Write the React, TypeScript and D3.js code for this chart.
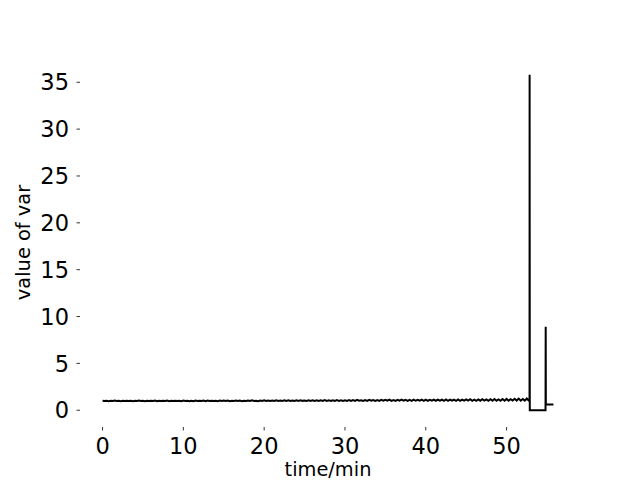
import React from "react";
import * as d3 from "d3";

// Sampled signal (every 0.25 min) before the event; one row = one minute
const SAMPLE_STEP = 0.25;
const baseValues: number[] = [
  1.01, 0.98, 1.02, 0.97,
  1.00, 0.98, 1.03, 0.99,
  1.01, 0.97, 1.02, 0.98,
  1.02, 0.99, 1.01, 0.97,
  1.00, 0.98, 1.03, 0.98,
  1.02, 0.97, 1.01, 0.99,
  1.01, 0.98, 1.03, 0.97,
  1.00, 0.99, 1.02, 0.98,
  1.03, 0.97, 1.01, 0.98,
  1.02, 0.98, 1.00, 0.97,
  1.03, 0.98, 1.02, 0.97,
  1.01, 0.97, 1.04, 0.99,
  1.02, 0.98, 1.03, 0.97,
  1.04, 0.99, 1.01, 0.98,
  1.02, 0.97, 1.03, 0.98,
  1.03, 0.98, 1.04, 0.97,
  1.01, 0.99, 1.03, 0.98,
  1.04, 0.97, 1.02, 0.98,
  1.03, 0.98, 1.05, 0.99,
  1.02, 0.97, 1.04, 0.98,
  1.05, 0.98, 1.03, 0.99,
  1.04, 0.98, 1.06, 0.99,
  1.03, 0.99, 1.05, 0.98,
  1.06, 0.99, 1.04, 0.98,
  1.05, 0.98, 1.07, 1.00,
  1.04, 0.99, 1.06, 0.98,
  1.07, 1.00, 1.05, 0.99,
  1.06, 0.99, 1.08, 1.00,
  1.05, 0.99, 1.07, 0.99,
  1.08, 1.00, 1.06, 0.99,
  1.07, 1.00, 1.09, 0.99,
  1.08, 1.00, 1.10, 1.01,
  1.06, 0.99, 1.09, 1.00,
  1.11, 1.01, 1.08, 1.00,
  1.09, 1.00, 1.11, 1.01,
  1.10, 1.01, 1.12, 1.00,
  1.08, 1.00, 1.11, 1.01,
  1.12, 1.01, 1.10, 1.00,
  1.11, 1.00, 1.13, 1.01,
  1.10, 1.01, 1.12, 1.00,
  1.13, 1.01, 1.11, 1.02,
  1.14, 1.01, 1.12, 1.02,
  1.12, 1.00, 1.15, 1.01,
  1.14, 1.02, 1.13, 1.01,
  1.16, 1.01, 1.14, 1.02,
  1.15, 1.02, 1.17, 1.01,
  1.13, 1.01, 1.16, 1.02,
  1.18, 1.02, 1.15, 1.01,
  1.17, 1.02, 1.19, 1.02,
  1.16, 1.01, 1.20, 1.02,
  1.21, 1.02, 1.18, 1.03,
  1.22, 1.03, 1.24, 1.02,
  1.20, 1.03, 1.25, 1.02,
];

// Event segment (time in min, value)
const eventTimes: number[] = [52.84, 52.85, 52.87, 54.82, 54.84, 54.86, 55.8];
const eventValues: number[] = [0.98, 35.8, 0.0, 0.0, 8.9, 0.6, 0.6];

const xTicks: number[] = [0, 10, 20, 30, 40, 50];
const yTicks: number[] = [0, 5, 10, 15, 20, 25, 30, 35];

const xLabel = "time/min";
const yLabel = "value of var";

export default function App() {
  const W = 640, H = 480;
  const left = 80, right = 576, top = 58, bottom = 427;

  const data: [number, number][] = [
    ...baseValues.map((v, i) => [i * SAMPLE_STEP, v] as [number, number]),
    ...eventTimes.map((t, i) => [t, eventValues[i]] as [number, number]),
  ];

  const xExt = d3.extent(data, (d) => d[0]) as [number, number];
  const yExt = d3.extent(data, (d) => d[1]) as [number, number];
  const xm = (xExt[1] - xExt[0]) * 0.05;
  const ym = (yExt[1] - yExt[0]) * 0.05;

  const x = d3.scaleLinear().domain([xExt[0] - xm, xExt[1] + xm]).range([left, right]);
  const y = d3.scaleLinear().domain([yExt[0] - ym, yExt[1] + ym]).range([bottom, top]);

  const line = d3.line<[number, number]>().x((d) => x(d[0])).y((d) => y(d[1]));

  const font = "'DejaVu Sans', sans-serif";
  const tickFs = 22.5;
  const tickLen = 3.5;
  const digitH = 0.729 * tickFs;

  return (
    <svg
      width={W}
      height={H}
      style={{ position: "fixed", left: 0, top: 0, background: "#fff" }}
      fontFamily={font}
    >
      <rect x={0} y={0} width={W} height={H} fill="#fff" />
      <path d={line(data) ?? ""} fill="none" stroke="#000" strokeWidth={2} strokeLinejoin="miter" />
      {xTicks.map((t) => (
        <g key={"x" + t}>
          <line x1={x(t)} x2={x(t)} y1={bottom} y2={bottom + tickLen} stroke="#000" strokeWidth={0.8} />
          <text x={x(t)} y={446 + digitH / 2} textAnchor="middle" fontSize={tickFs} fill="#000">
            {t}
          </text>
        </g>
      ))}
      {yTicks.map((t) => (
        <g key={"y" + t}>
          <line x1={left - tickLen} x2={left} y1={y(t)} y2={y(t)} stroke="#000" strokeWidth={0.8} />
          <text x={69} y={y(t) + digitH / 2} textAnchor="end" fontSize={tickFs} fill="#000">
            {t}
          </text>
        </g>
      ))}
      <text x={(left + right) / 2} y={475.5} textAnchor="middle" fontSize={19.4} fill="#000">
        {xLabel}
      </text>
      <text
        transform={`translate(30, ${(top + bottom) / 2}) rotate(-90)`}
        textAnchor="middle"
        fontSize={19.4}
        fill="#000"
      >
        {yLabel}
      </text>
    </svg>
  );
}
